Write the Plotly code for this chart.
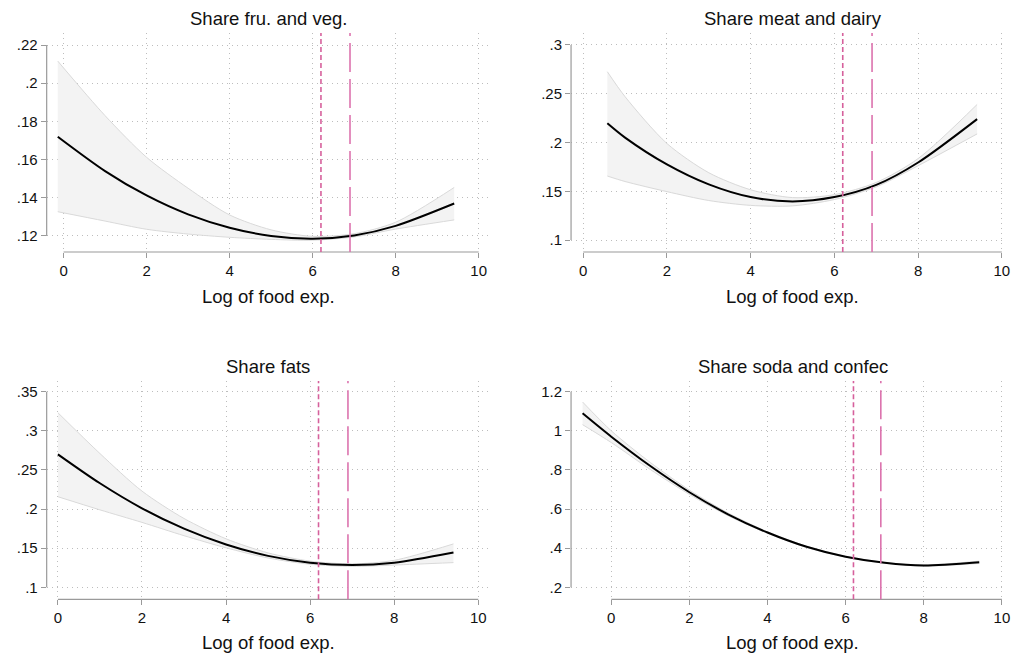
import plotly.graph_objects as go

# ---------------- data ----------------
titles = ["Share fru. and veg.", "Share meat and dairy", "Share fats", "Share soda and confec"]
x_label = "Log of food exp."

x_fv = [-0.14, 1, 2, 3, 4, 5, 6, 7, 8, 9.41]
fit_fv = [0.1720, 0.1540, 0.1412, 0.1313, 0.1243, 0.1200, 0.1186, 0.1203, 0.1253, 0.1370]
hi_fv = [0.2116, 0.1830, 0.1612, 0.1450, 0.1310, 0.1232, 0.1198, 0.1212, 0.1272, 0.1454]
lo_fv = [0.1327, 0.1278, 0.1235, 0.1210, 0.1193, 0.1182, 0.1178, 0.1195, 0.1236, 0.1284]

x_md = [0.577, 1, 2, 3, 4, 5, 6, 7, 8, 9.41]
fit_md = [0.2197, 0.2050, 0.1775, 0.1570, 0.1440, 0.1396, 0.1440, 0.1565, 0.1795, 0.2240]
hi_md = [0.2726, 0.2470, 0.1990, 0.1690, 0.1515, 0.1435, 0.1465, 0.1590, 0.1835, 0.2390]
lo_md = [0.1656, 0.1600, 0.1496, 0.1405, 0.1355, 0.1350, 0.1415, 0.1545, 0.1762, 0.2088]

x_ft = [0, 1, 2, 3, 4, 5, 6, 7, 8, 9.41]
fit_ft = [0.2700, 0.2330, 0.2010, 0.1750, 0.1548, 0.1402, 0.1315, 0.1285, 0.1315, 0.1445]
hi_ft = [0.3232, 0.2710, 0.2230, 0.1880, 0.1620, 0.1440, 0.1335, 0.1300, 0.1345, 0.1555]
lo_ft = [0.2158, 0.1990, 0.1830, 0.1660, 0.1505, 0.1375, 0.1295, 0.1268, 0.1285, 0.1316]

x_sc = [-0.735, 0, 1, 2, 3, 4, 5, 6, 7, 8, 9.42]
fit_sc = [1.0895, 0.970, 0.820, 0.686, 0.572, 0.480, 0.407, 0.356, 0.325, 0.3115, 0.328]
hi_sc = [1.1475, 1.000, 0.838, 0.697, 0.579, 0.484, 0.410, 0.358, 0.327, 0.3145, 0.334]
lo_sc = [1.0315, 0.940, 0.802, 0.675, 0.565, 0.476, 0.404, 0.354, 0.323, 0.3085, 0.322]

x_ticks = [0, 2, 4, 6, 8, 10]
y_ticks = [
    [0.12, 0.14, 0.16, 0.18, 0.20, 0.22],
    [0.10, 0.15, 0.20, 0.25, 0.30],
    [0.10, 0.15, 0.20, 0.25, 0.30, 0.35],
    [0.2, 0.4, 0.6, 0.8, 1.0, 1.2],
]
y_ticktext = [
    [".12", ".14", ".16", ".18", ".2", ".22"],
    [".1", ".15", ".2", ".25", ".3"],
    [".1", ".15", ".2", ".25", ".3", ".35"],
    [".2", ".4", ".6", ".8", "1", "1.2"],
]
vline_x = [6.2, 6.9]

panels = [
    (x_fv, fit_fv, hi_fv, lo_fv),
    (x_md, fit_md, hi_md, lo_md),
    (x_ft, fit_ft, hi_ft, lo_ft),
    (x_sc, fit_sc, hi_sc, lo_sc),
]

# ---------------- layout geometry ----------------
W, H = 1021, 657
px_dom = [(47, 493), (575, 1010), (47, 493), (575, 1010)]
py_dom = [(33, 252), (33, 252), (381, 599.3), (381, 599.3)]
x_ranges = [[-0.407, 10.263], [-0.29, 10.03], [-0.267, 10.27], [-1.03, 10.03]]
y_ranges = [[0.1116, 0.2263], [0.0877, 0.3123], [0.0847, 0.3637], [0.1387, 1.2547]]
title_cx = [270, 798, 270, 798]
title_cy = [18, 18, 366.7, 366.7]
xlab_cy = [296, 296, 642.7, 642.7]

FONT = "Liberation Sans, Arial, Helvetica, sans-serif"
AXIS_COL = "#9a9a9a"
GRID_COL = "#bdbdbd"

fig = go.Figure()
shapes = []
annotations = []

for i, (xs, fit, hi, lo) in enumerate(panels):
    n = i + 1
    xa = "x" if n == 1 else f"x{n}"
    ya = "y" if n == 1 else f"y{n}"
    fig.add_trace(go.Scatter(x=xs, y=hi, xaxis=xa, yaxis=ya, mode="lines",
                             line=dict(color="#d9d9d9", width=1, shape="spline", smoothing=0.8),
                             showlegend=False, hoverinfo="skip"))
    fig.add_trace(go.Scatter(x=xs, y=lo, xaxis=xa, yaxis=ya, mode="lines", fill="tonexty",
                             fillcolor="#f3f3f3",
                             line=dict(color="#d9d9d9", width=1, shape="spline", smoothing=0.8),
                             showlegend=False, hoverinfo="skip"))
    fig.add_trace(go.Scatter(x=xs, y=fit, xaxis=xa, yaxis=ya, mode="lines",
                             line=dict(color="#000000", width=2, shape="spline", smoothing=0.8),
                             showlegend=False))

    x0, x1 = px_dom[i]
    y0, y1 = py_dom[i]
    xd = [x0 / W, x1 / W]
    yd = [1 - y1 / H, 1 - y0 / H]
    common = dict(showline=False, zeroline=False, ticks="outside", ticklen=5,
                  tickcolor=AXIS_COL, tickwidth=1, showgrid=True, gridcolor=GRID_COL,
                  gridwidth=1, griddash="1px,4px",
                  tickfont=dict(family=FONT, size=15, color="#111111"))
    xkey = "xaxis" if n == 1 else f"xaxis{n}"
    ykey = "yaxis" if n == 1 else f"yaxis{n}"
    fig.update_layout({
        xkey: dict(domain=xd, range=x_ranges[i], anchor=ya, tickmode="array",
                   tickvals=x_ticks, ticktext=[str(v) for v in x_ticks], **common),
        ykey: dict(domain=yd, range=y_ranges[i], anchor=xa, tickmode="array",
                   tickvals=y_ticks[i], ticktext=y_ticktext[i], **common),
    })

    xref_d = f"{xa} domain"
    yref_d = f"{ya} domain"
    # axis lines spanning the tick range (Stata style)
    shapes.append(dict(type="line", xref=xa, yref=yref_d, x0=x_ticks[0], x1=x_ticks[-1],
                       y0=0, y1=0, line=dict(color=AXIS_COL, width=1.2)))
    shapes.append(dict(type="line", xref=xref_d, yref=ya, x0=0, x1=0,
                       y0=y_ticks[i][0], y1=y_ticks[i][-1], line=dict(color=AXIS_COL, width=1.2)))
    # reference vertical lines
    shapes.append(dict(type="line", xref=xa, yref=yref_d, x0=vline_x[0], x1=vline_x[0],
                       y0=0, y1=1, line=dict(color="#d6609c", width=1.6, dash="5px,3px")))
    shapes.append(dict(type="line", xref=xa, yref=yref_d, x0=vline_x[1], x1=vline_x[1],
                       y0=0, y1=1, line=dict(color="#dc73ae", width=1.6, dash="29px,7px")))

    annotations.append(dict(text=titles[i], xref="paper", yref="paper",
                            x=title_cx[i] / W, y=1 - title_cy[i] / H, xanchor="center",
                            yanchor="middle", showarrow=False,
                            font=dict(family=FONT, size=18.5, color="#111111")))
    annotations.append(dict(text=x_label, xref="paper", yref="paper",
                            x=title_cx[i] / W, y=1 - xlab_cy[i] / H, xanchor="center",
                            yanchor="middle", showarrow=False,
                            font=dict(family=FONT, size=18.5, color="#111111")))

fig.update_layout(width=W, height=H, margin=dict(l=0, r=0, t=0, b=0),
                  paper_bgcolor="white", plot_bgcolor="white",
                  shapes=shapes, annotations=annotations, showlegend=False)

fig.write_html("out.html", config={"displayModeBar": False},
               post_script="document.body.style.margin='0';document.body.style.overflow='hidden';")
